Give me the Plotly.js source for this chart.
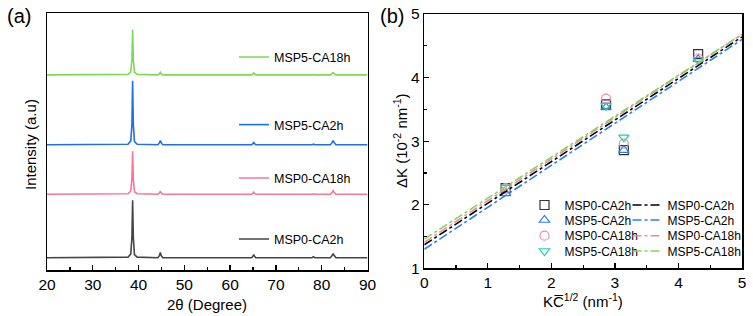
<!DOCTYPE html>
<html>
<head>
<meta charset="utf-8">
<script src="https://cdn.plot.ly/plotly-3.0.1.min.js"></script>
<style>html,body{margin:0;padding:0;background:#fff}#chart{width:753px;height:316px}</style>
</head>
<body>
<div id="chart"></div>
<script>
// ---------- Panel (a): XRD patterns ----------
const twoTheta = [20, 37.7, 38.3, 38.55, 38.7, 38.85, 39.1, 39.7, 44.2, 44.55, 44.75, 44.95, 45.3, 64.7, 65.0, 65.15, 65.3, 65.6, 77.9, 78.2, 78.5, 81.9, 82.3, 82.5, 82.7, 83.1, 90];
const xrdNames = ["MSP0-CA2h", "MSP0-CA18h", "MSP5-CA2h", "MSP5-CA18h"];
const xrdOffsets = [4.8, 29.5, 48.8, 76.0];
const intMSP0_CA2h  = [0, 0.2, 1.5, 8, 22.4, 8, 1.2, 0.2, 0, 0.8, 2.0, 0.8, 0, 0, 0.6, 1.2, 0.6, 0, 0, 0.4, 0, 0, 0.9, 1.6, 0.9, 0, 0];
const intMSP0_CA18h = [0, 0.2, 1.3, 6, 16.8, 6, 1.0, 0.2, 0, 0.5, 1.2, 0.5, 0, 0, 0.4, 0.8, 0.4, 0, 0, 0.2, 0, 0, 0.8, 1.4, 0.8, 0, 0];
const intMSP5_CA2h  = [0, 0.2, 1.5, 8, 24.9, 8, 1.2, 0.2, 0, 0.7, 1.6, 0.7, 0, 0, 0.5, 1.0, 0.5, 0, 0, 0.2, 0, 0, 0.9, 1.6, 0.9, 0, 0];
const intMSP5_CA18h = [0, 0.2, 1.2, 6, 17.7, 6, 1.0, 0.2, 0, 0.4, 1.0, 0.4, 0, 0, 0.4, 0.8, 0.4, 0, 0, 0.2, 0, 0, 0.5, 0.9, 0.5, 0, 0];
const xrdIntensities = [intMSP0_CA2h, intMSP0_CA18h, intMSP5_CA2h, intMSP5_CA18h];
const xrdColors = ["#454545", "#f7769b", "#1f6fe6", "#7fd757"];

// ---------- Panel (b): Williamson-Hall type plot ----------
const kc = [1.28, 2.86, 3.14, 4.31];
const seriesNames = ["MSP0-CA2h", "MSP5-CA2h", "MSP0-CA18h", "MSP5-CA18h"];
const dK_MSP0_CA2h  = [2.26, 3.58, 2.86, 4.37];
const dK_MSP5_CA2h  = [2.18, 3.53, 2.86, 4.29];
const dK_MSP0_CA18h = [2.26, 3.67, 2.96, 4.30];
const dK_MSP5_CA18h = [2.27, 3.56, 3.06, 4.28];
const dKValues = [dK_MSP0_CA2h, dK_MSP5_CA2h, dK_MSP0_CA18h, dK_MSP5_CA18h];
const fitX = [0, 5];
const fit_MSP0_CA2h  = [1.37, 4.64];
const fit_MSP5_CA2h  = [1.30, 4.60];
const fit_MSP0_CA18h = [1.41, 4.68];
const fit_MSP5_CA18h = [1.46, 4.68];
const fitValues = [fit_MSP0_CA2h, fit_MSP5_CA2h, fit_MSP0_CA18h, fit_MSP5_CA18h];
const markerSymbols = ["square-open", "triangle-up-open", "circle-open", "triangle-down-open"];
const markerColors = ["#333333", "#2a7ff0", "#f28aa3", "#1fcfae"];
const fitColors = ["#000000", "#2a7ff0", "#f28aa3", "#7fd757"];

const W = 753, H = 316;
const px = v => v / W;
const py = v => 1 - v / H;
const FONT = "Arial, 'Liberation Sans', sans-serif";

const traces = [];
const layout = {
  width: W, height: H,
  margin: {l: 0, r: 0, t: 0, b: 0},
  paper_bgcolor: "#fff", plot_bgcolor: "#fff",
  font: {family: FONT, color: "#000", size: 15},
  showlegend: true,
  annotations: [], shapes: []
};

// legends for panel (a)
const leftLegendRows = [239.3, 178.3, 125, 57.3];
xrdNames.forEach((n, i) => {
  const lg = i === 0 ? "legend" : "legend" + (i + 1);
  traces.push({
    x: twoTheta,
    y: xrdIntensities[i].map(v => v + xrdOffsets[i]),
    type: "scatter", mode: "lines", name: n,
    line: {color: xrdColors[i], width: 1.6},
    xaxis: "x", yaxis: "y", legend: lg
  });
  layout[lg] = {x: px(234), y: py(leftLegendRows[i]), xanchor: "left", yanchor: "middle",
    bgcolor: "rgba(0,0,0,0)", borderwidth: 0, font: {size: 12.5, family: FONT}, itemwidth: 30};
});

// legends for panel (b)
const rightRows = [205, 220, 235.7, 251];
seriesNames.forEach((n, i) => {
  const lgM = "legend" + (5 + i);
  traces.push({
    x: kc, y: dKValues[i], type: "scatter", mode: "markers", name: n,
    marker: {symbol: markerSymbols[i], size: 9, color: markerColors[i], line: {width: 1.2, color: markerColors[i]}},
    xaxis: "x2", yaxis: "y2", legend: lgM
  });
  layout[lgM] = {x: px(524.5), y: py(rightRows[i]), xanchor: "left", yanchor: "middle",
    bgcolor: "rgba(0,0,0,0)", borderwidth: 0, font: {size: 12, family: FONT}, itemwidth: 30};
});
seriesNames.forEach((n, i) => {
  const lgL = "legend" + (9 + i);
  traces.push({
    x: fitX, y: fitValues[i], type: "scatter", mode: "lines", name: n,
    line: {color: fitColors[i], width: 1.6, dash: "dashdot"},
    xaxis: "x2", yaxis: "y2", legend: lgL
  });
  layout[lgL] = {x: px(627.5), y: py(rightRows[i]), xanchor: "left", yanchor: "middle",
    bgcolor: "rgba(0,0,0,0)", borderwidth: 0, font: {size: 12, family: FONT}, itemwidth: 30};
});

const axCommon = {showline: true, linecolor: "#000", linewidth: 1.5, mirror: true,
  zeroline: false, showgrid: false, ticks: "inside", tickcolor: "#000", tickwidth: 1.3, ticklen: 5,
  tickfont: {size: 15.5, family: FONT, color: "#000"}};

layout.xaxis = Object.assign({}, axCommon, {
  domain: [px(47), px(367.5)], range: [20, 90], tick0: 20, dtick: 10, anchor: "y",
  minor: {ticks: "inside", dtick: 5, ticklen: 3, tickcolor: "#000", tickwidth: 1.3}
});
layout.yaxis = Object.assign({}, axCommon, {
  domain: [py(270), py(13.3)], range: [0, 100], showticklabels: false, ticks: "", anchor: "x"
});
layout.xaxis2 = Object.assign({}, axCommon, {
  domain: [px(424.3), px(742)], range: [0, 5], dtick: 1, anchor: "y2",
  minor: {ticks: "inside", dtick: 0.5, ticklen: 3, tickcolor: "#000", tickwidth: 1.3}
});
layout.yaxis2 = Object.assign({}, axCommon, {
  domain: [py(268.3), py(14)], range: [1, 5], dtick: 1, anchor: "x2",
  minor: {ticks: "inside", dtick: 0.5, ticklen: 3, tickcolor: "#000", tickwidth: 1.3}
});

const ann = (text, x, y, opts) => Object.assign({text, x: px(x), y: py(y), xref: "paper", yref: "paper",
  showarrow: false, xanchor: "center", yanchor: "middle", font: {size: 15, family: FONT, color: "#000"}}, opts || {});

layout.annotations.push(
  ann("(a)", 5, 16, {xanchor: "left", font: {size: 20, family: FONT, color: "#000"}}),
  ann("(b)", 378, 16, {xanchor: "left", font: {size: 20, family: FONT, color: "#000"}}),
  ann("2θ (Degree)", 207, 304),
  ann("Intensity (a.u)", 30, 145, {textangle: -90}),
  ann("KC\u0305<sup>1/2</sup> (nm<sup>-1</sup>)", 583, 300),
  ann("ΔK (10<sup>-2</sup> nm<sup>-1</sup>)", 401, 141, {textangle: -90})
);

Plotly.newPlot("chart", traces, layout, {displayModeBar: false, staticPlot: true});
</script>
</body>
</html>
